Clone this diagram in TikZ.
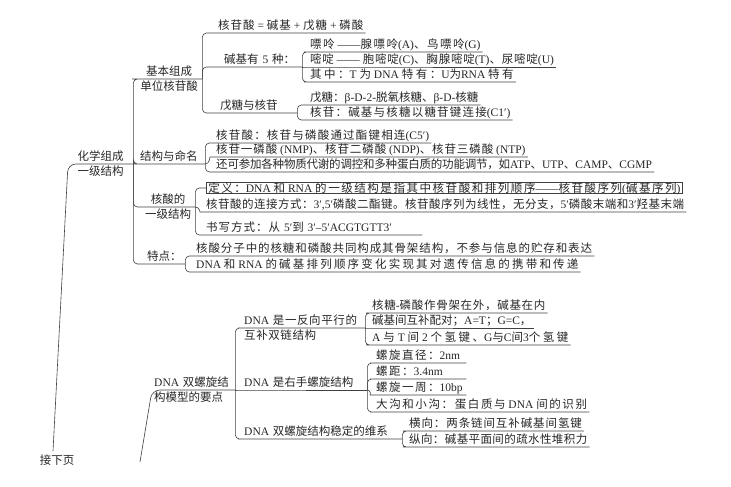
\documentclass[tikz,border=0pt]{standalone}
\usepackage{fontspec}
\setmainfont{Liberation Serif}
\newfontfamily\cjkfont{Noto Sans CJK SC}
\newfontfamily\latinfont{Liberation Serif}
\usetikzlibrary{positioning}

% CJK characters take the CJK font, the rest stays in Liberation Serif
\newlength{\cjkskip}
\XeTeXinterchartokenstate=1
\newXeTeXintercharclass\cjkclass
\newcount\cjkcode
\cjkcode="3000
\loop
  \XeTeXcharclass\cjkcode=\cjkclass
  \advance\cjkcode by 1
\ifnum\cjkcode<"A000 \repeat
\cjkcode="FF00
\loop
  \XeTeXcharclass\cjkcode=\cjkclass
  \advance\cjkcode by 1
\ifnum\cjkcode<"FFF0 \repeat
\XeTeXinterchartoks 0 \cjkclass = {\cjkfont}
\XeTeXinterchartoks 4095 \cjkclass = {\cjkfont}
\XeTeXinterchartoks \cjkclass 0 = {\latinfont}
\XeTeXinterchartoks \cjkclass 4095 = {\latinfont}
\XeTeXinterchartoks \cjkclass \cjkclass = {\kern\cjkskip}

\newcommand{\mapfont}{\fontsize{11.5pt}{15pt}\selectfont}

\begin{document}
\begin{tikzpicture}[
        x=1pt, y=-1pt,
        font=\mapfont, text=black!85,
        topic/.style={anchor=south west, inner xsep=2pt, inner ysep=1pt, text depth=2.5pt, align=left},
        defbox/.style={draw=black!75, line width=0.6pt, anchor=west, inner xsep=2pt, inner ysep=0pt, text depth=1.5pt},
        cjkgap/.style={execute at begin node={\setlength{\cjkskip}{#1}}},
        link/.style={draw=black!75, line width=0.6pt, rounded corners=4pt}
    ]
        \useasboundingbox (0,0) rectangle (731,487);

        % chemical composition and primary structure
        \node[topic, text width=61pt, align=center] (hx) at (68,164) {化学组成\\一级结构};
        \node[topic, text width=62pt, align=center] (jb) at (136,79) {基本组成\\单位核苷酸};
        \node[topic, text width=63pt] (mm) at (138,164) {结构与命名};
        \node[topic, text width=50pt, align=center] (yj) at (141,207) {核酸的\\一级结构};
        \node[topic, text width=36pt] (td) at (145,264) {特点：};

        \node[topic, cjkgap=1pt] (hgs) at (216,33) {核苷酸 = 碱基 + 戊糖 + 磷酸};
        \node[topic, text width=76pt] (jj) at (222,67) {碱基有 5 种：};
        \node[topic, text width=75pt] (wt) at (218,113) {戊糖与核苷};

        \node[topic, cjkgap=1.5pt] (pl) at (308,52) {嘌呤 ——腺嘌呤(A)、鸟嘌呤(G)};
        \node[topic, cjkgap=0.8pt] (md) at (308,67) {嘧啶 —— 胞嘧啶(C)、胸腺嘧啶(T)、尿嘧啶(U)};
        \node[topic, cjkgap=2.5pt] (qz) at (308,82) {其中：T 为 DNA 特有：U为RNA 特有};
        \node[topic] (wtang) at (308,105) {戊糖：β-D-2-脱氧核糖、β-D-核糖};
        \node[topic, cjkgap=1.2pt] (hg) at (308,120) {核苷：碱基与核糖以糖苷键连接(C1′)};

        \node[topic, cjkgap=1.2pt] (hgs2) at (214,143) {核苷酸：核苷与磷酸通过酯键相连(C5′)};
        \node[topic, cjkgap=0.9pt] (nmp) at (214,157) {核苷一磷酸 (NMP)、核苷二磷酸 (NDP)、核苷三磷酸 (NTP)};
        \node[topic, cjkgap=-0.2pt] (hk) at (214,172) {还可参加各种物质代谢的调控和多种蛋白质的功能调节，如ATP、UTP、CAMP、CGMP};

        \node[defbox, cjkgap=1.55pt] (dy) at (206,188) {定义：DNA 和 RNA 的一级结构是指其中核苷酸和排列顺序——核苷酸序列(碱基序列)};
        \node[topic, cjkgap=0.5pt] (lj) at (204,212) {核苷酸的连接方式：3′,5′磷酸二酯键。核苷酸序列为线性，无分支，5′磷酸末端和3′羟基末端};
        \node[topic, cjkgap=1pt, text width=214pt] (sx) at (204,235) {书写方式：从 5′到 3′–5′ACGTGTT3′};

        \node[topic, cjkgap=0.9pt] (gj) at (194,256) {核酸分子中的核糖和磷酸共同构成其骨架结构，不参与信息的贮存和表达};
        \node[topic, cjkgap=2.2pt] (pl2) at (194,272) {DNA 和 RNA 的碱基排列顺序变化实现其对遗传信息的携带和传递};

        % double helix model
        \node[topic, text width=79pt] (sl) at (152,390) {DNA 双螺旋结\\构模型的要点};
        \node[topic, text width=119pt, cjkgap=0.6pt] (e1) at (242,328) {DNA 是一反向平行的\\互补双链结构};
        \node[topic, text width=121pt] (e2) at (242,390) {DNA 是右手螺旋结构};
        \node[topic, text width=156pt] (e3) at (242,439) {DNA 双螺旋结构稳定的维系};

        \node[topic, cjkgap=0.7pt] (gjw) at (370,313) {核糖-磷酸作骨架在外，碱基在内};
        \node[topic] (hb) at (370,328) {碱基间互补配对；A=T；G=C，};
        \node[topic, cjkgap=2.5pt] (qj) at (370,345) {A 与 T 间 2 个氢键、G与C间3个氢键};

        \node[topic, text width=88pt, cjkgap=1.5pt] (zj) at (374,363) {螺旋直径：2nm};
        \node[topic, text width=88pt, cjkgap=1.5pt] (lj2) at (374,379) {螺距：3.4nm};
        \node[topic, text width=88pt, cjkgap=1.5pt] (yz) at (374,395) {螺旋一周：10bp};
        \node[topic, cjkgap=1.6pt] (gg) at (374,412) {大沟和小沟：蛋白质与 DNA 间的识别};

        \node[topic, cjkgap=0.9pt] (hx2) at (407,431) {横向：两条链间互补碱基间氢键};
        \node[topic, cjkgap=0.4pt] (zx) at (407,447) {纵向：碱基平面间的疏水性堆积力};

        \node (jx) at (57,460) {接下页};
        \coordinate (xy) at (140,462);

        \draw[link, rounded corners=8pt] ([xshift=-4pt]jx.north) -- (hx.south west) -- (hx.south east);
        \draw[link, rounded corners=8pt] (xy) -- (sl.south west) -- (sl.south east);

        \draw[link] (hx.south east) |- (jb.south west) -- (jb.south east);
        \draw[link] (hx.south east) |- (mm.south west) -- (mm.south east);
        \draw[link] (hx.south east) |- (yj.south west) -- (yj.south east);
        \draw[link] (hx.south east) |- (td.south west) -- (td.south east);

        \draw[link] (jb.south east) |- (hgs.south west) -- (hgs.south east);
        \draw[link] (jb.south east) |- (jj.south west) -- (jj.south east);
        \draw[link] (jb.south east) |- (wt.south west) -- (wt.south east);

        \draw[link] (jj.south east) |- (pl.south west) -- (pl.south east);
        \draw[link] (jj.south east) -- (md.south west) -- (md.south east);
        \draw[link] (jj.south east) |- (qz.south west) -- (qz.south east);
        \draw[link] (wt.south east) |- (wtang.south west) -- (wtang.south east);
        \draw[link] (wt.south east) |- (hg.south west) -- (hg.south east);

        \draw[link] (mm.south east) |- (hgs2.south west) -- (hgs2.south east);
        \draw[link] (mm.south east) to[out=0, in=180] (nmp.south west) -- (nmp.south east);
        \draw[link] (mm.south east) |- (hk.south west) -- (hk.south east);

        \draw[link] (yj.south east) |- (dy.west);
        \draw[link] (yj.south east) to[out=0, in=180] (lj.south west) -- (lj.south east);
        \draw[link] (yj.south east) |- (sx.south west) -- (sx.south east);

        \draw[link] (td.south east) |- (gj.south west) -- (gj.south east);
        \draw[link] (td.south east) |- (pl2.south west) -- (pl2.south east);

        \draw[link] (sl.south east) |- (e1.south west) -- (e1.south east);
        \draw[link] (sl.south east) -- (e2.south west) -- (e2.south east);
        \draw[link] (sl.south east) |- (e3.south west) -- (e3.south east);

        \draw[link] (e1.south east) |- (gjw.south west) -- (gjw.south east);
        \draw[link] (e1.south east) -- (hb.south west) -- (hb.south east);
        \draw[link] (e1.south east) |- (qj.south west) -- (qj.south east);

        \draw[link] (e2.south east) |- (zj.south west) -- (zj.south east);
        \draw[link] (e2.south east) |- (lj2.south west) -- (lj2.south east);
        \draw[link] (e2.south east) to[out=0, in=180] (yz.south west) -- (yz.south east);
        \draw[link] (e2.south east) |- (gg.south west) -- (gg.south east);

        \draw[link] (e3.south east) |- (hx2.south west) -- (hx2.south east);
        \draw[link] (e3.south east) |- (zx.south west) -- (zx.south east);
    \end{tikzpicture}
\end{document}
